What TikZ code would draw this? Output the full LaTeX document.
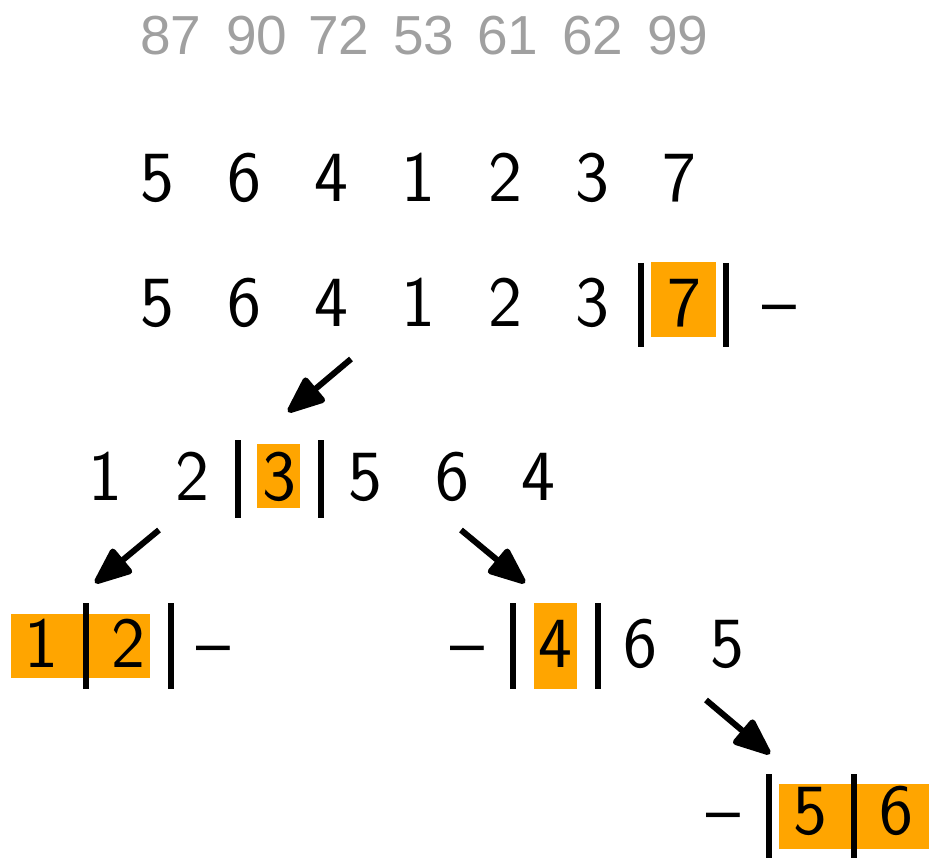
\documentclass[tikz,border=0pt]{standalone}
\usepackage{fontspec}
\newfontfamily\grayfont{Liberation Sans}
\usetikzlibrary{arrows.meta}
\definecolor{boxorange}{RGB}{255,165,0}
\definecolor{numgray}{RGB}{160,160,160}
\begin{document}
\begin{tikzpicture}[x=1pt,y=-1pt,
  dig/.style={anchor=base,inner sep=0pt,font=\sffamily\fontsize{72}{80}\selectfont},
  gnum/.style={anchor=base,inner sep=0pt,text=numgray,font=\grayfont\fontsize{55}{60}\selectfont},
  hbox/.style={fill=boxorange,draw=none},
  bar/.style={line width=6.5pt},
  arr/.style={line width=6pt,-{Triangle[length=42pt,width=33pt,round]}}]
\useasboundingbox (0,0) rectangle (929,858);
% top gray row
\node[gnum] (g1) at (171,55) {87};
\node[gnum] (g2) at (257,55) {90};
\node[gnum] (g3) at (339,55) {72};
\node[gnum] (g4) at (424,55) {53};
\node[gnum] (g5) at (508,55) {61};
\node[gnum] (g6) at (593,55) {62};
\node[gnum] (g7) at (678,55) {99};
% row 2
\node[dig] (a1) at (157,202) {5};
\node[dig] (a2) at (244,202) {6};
\node[dig] (a3) at (331,202) {4};
\node[dig] (a4) at (418,202) {1};
\node[dig] (a5) at (505,202) {2};
\node[dig] (a6) at (592,202) {3};
\node[dig] (a7) at (679,202) {7};
% row 3
\fill[hbox] (651,262) rectangle (716,337);
\node[dig] (b1) at (157,327) {5};
\node[dig] (b2) at (244,327) {6};
\node[dig] (b3) at (331,327) {4};
\node[dig] (b4) at (418,327) {1};
\node[dig] (b5) at (505,327) {2};
\node[dig] (b6) at (592,327) {3};
\node[dig] (b7) at (684,327) {7};
\node[dig] (bd) at (779,327) {\textendash};
\draw[bar] (641,263) -- (641,347);
\draw[bar] (726,263) -- (726,347);
% row 4
\fill[hbox] (257,444) rectangle (300,508);
\node[dig] (c1) at (105,500) {1};
\node[dig] (c2) at (192,500) {2};
\node[dig] (c3) at (279,500) {3};
\node[dig] (c4) at (365,500) {5};
\node[dig] (c5) at (452,500) {6};
\node[dig] (c6) at (538,500) {4};
\draw[bar] (238,440) -- (238,518);
\draw[bar] (321,440) -- (321,518);
% row 5 left
\fill[hbox] (11,614) rectangle (150,678);
\node[dig] (d1) at (41,667) {1};
\node[dig] (d2) at (128,667) {2};
\node[dig] (dd) at (213,667) {\textendash};
\draw[bar] (86,603) -- (86,689);
\draw[bar] (171,603) -- (171,689);
% row 5 right
\fill[hbox] (534,603) rectangle (577,689);
\node[dig] (e0) at (467,667) {\textendash};
\node[dig] (e1) at (555,667) {4};
\node[dig] (e2) at (640,667) {6};
\node[dig] (e3) at (727,667) {5};
\draw[bar] (513,603) -- (513,689);
\draw[bar] (598,603) -- (598,689);
% row 6
\fill[hbox] (779,784) rectangle (929,849);
\node[dig] (f0) at (723,834) {\textendash};
\node[dig] (f1) at (810,834) {5};
\node[dig] (f2) at (896,834) {6};
\draw[bar] (769,774) -- (769,858);
\draw[bar] (854,774) -- (854,858);
% arrows
\coordinate (s1) at (351,359);
\coordinate (t1) at (288,412);
\coordinate (s2) at (159,530);
\coordinate (t2) at (95,583);
\coordinate (s3) at (461,530);
\coordinate (t3) at (525,583);
\coordinate (s4) at (706,700);
\coordinate (t4) at (770,754);
\draw[arr] (s1) -- (t1);
\draw[arr] (s2) -- (t2);
\draw[arr] (s3) -- (t3);
\draw[arr] (s4) -- (t4);
\end{tikzpicture}
\end{document}
